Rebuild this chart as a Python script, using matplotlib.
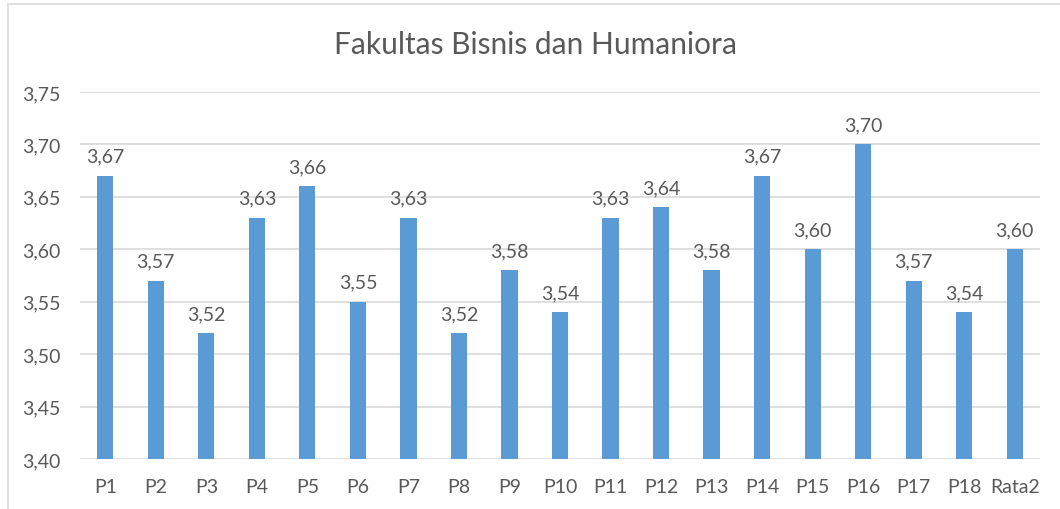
import matplotlib
matplotlib.use("Agg")
import matplotlib.pyplot as plt
from matplotlib.patches import Rectangle

categories = ["P1", "P2", "P3", "P4", "P5", "P6", "P7", "P8", "P9", "P10",
              "P11", "P12", "P13", "P14", "P15", "P16", "P17", "P18", "Rata2"]
values = [3.67, 3.57, 3.52, 3.63, 3.66, 3.55, 3.63, 3.52, 3.58, 3.54,
          3.63, 3.64, 3.58, 3.67, 3.60, 3.70, 3.57, 3.54, 3.60]
yticks = [3.40, 3.45, 3.50, 3.55, 3.60, 3.65, 3.70, 3.75]
title = "Fakultas Bisnis dan Humaniora"

TXT = "#595959"
plt.rcParams['font.family'] = ['Lato', 'DejaVu Sans']

fig = plt.figure(figsize=(10.6, 5.1), dpi=100)
ax = fig.add_axes([80/1060, 50/510, 960/1060, 367/510])

x = list(range(len(categories)))
ax.bar(x, [v - 3.40 for v in values], bottom=3.40, width=0.32, color="#5B9BD5", zorder=3)
for xi, v in zip(x, values):
    ax.annotate(f"{v:.2f}".replace(".", ","), (xi, v), xytext=(0, 8), textcoords="offset points",
                ha="center", va="bottom", fontsize=14, color=TXT, zorder=4)

ax.set_xlim(-0.5, len(categories) - 0.5)
ax.set_ylim(3.40, 3.75)
ax.set_yticks(yticks)
ax.set_yticklabels([f"{t:.2f}".replace(".", ",") for t in yticks])
ax.set_xticks(x)
ax.set_xticklabels(categories)
ax.tick_params(axis="both", length=0, labelsize=14, labelcolor=TXT)
ax.tick_params(axis="y", pad=14)
ax.tick_params(axis="x", pad=14)
ax.grid(axis="y", color="#D9D9D9", linewidth=1.2, zorder=0)
for s in ax.spines.values():
    s.set_visible(False)

fig.text(536/1060, 1 - 45/510, title, ha="center", va="center", fontsize=21.5, color=TXT)

fig.patches.append(Rectangle((8/1060, -0.1), 1.2, 1 - 5/510 + 0.1, transform=fig.transFigure,
                             fill=False, edgecolor="#D9D9D9", linewidth=1.2))

fig.savefig("out.png", dpi=100)
